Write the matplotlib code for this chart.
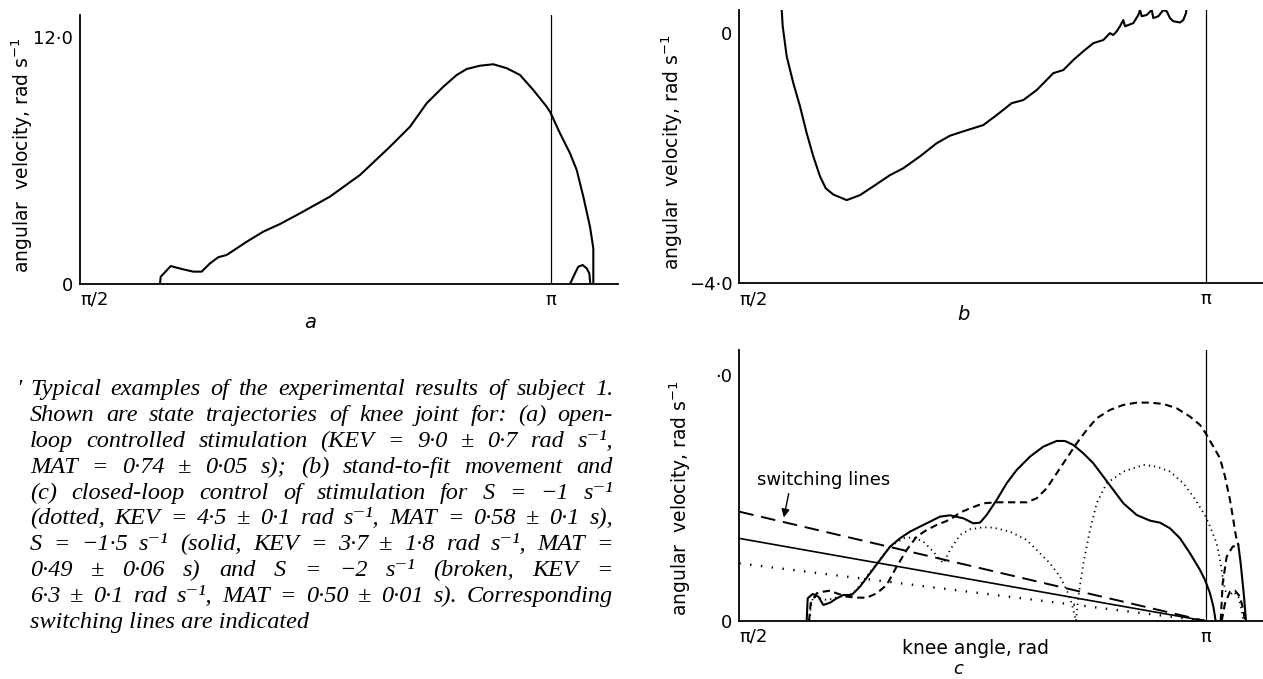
import numpy as np
import matplotlib.pyplot as plt

# ---- data (knee angle in rad, angular velocity in rad/s) ----
# a: open-loop controlled stimulation
a_angle = [1.8379, 1.8402, 1.8736, 1.9157, 1.9491, 1.9771, 2.0048, 2.0325, 2.0606,
           2.1273, 2.1827, 2.2385, 2.3053, 2.4054, 2.5056, 2.6057, 2.6725, 2.7283,
           2.7837, 2.8284, 2.8618, 2.9062, 2.9506, 2.9953, 3.0397, 3.0842, 3.1289,
           3.1416, 3.1733, 3.2067, 3.2291, 3.2511, 3.2734, 3.2845, 3.2845]
a_vel = [0, 0.35, 0.87, 0.71, 0.60, 0.60, 1.00, 1.30, 1.41,
         2.05, 2.54, 2.91, 3.43, 4.24, 5.29, 6.66, 7.63, 8.77,
         9.57, 10.14, 10.43, 10.59, 10.66, 10.47, 10.14, 9.41, 8.60,
         8.31, 7.31, 6.34, 5.53, 4.24, 2.78, 1.73, 0]
a_loop_angle = [3.2067, 3.2234, 3.2344, 3.2491, 3.2624, 3.2711, 3.2745]
a_loop_vel = [0, 0.52, 0.84, 0.92, 0.76, 0.52, 0]

# b: stand-to-fit movement
b_angle = [1.7136, 1.7170, 1.7304, 1.7527, 1.7752, 1.7978, 1.8200, 1.8426, 1.8618,
           1.8874, 1.9325, 1.9773, 2.0221, 2.0784, 2.1232, 2.1794, 2.2356, 2.2804,
           2.3252, 2.3926, 2.4377, 2.4882, 2.5273, 2.5724, 2.6284, 2.6620, 2.6957,
           2.7294, 2.7631, 2.7967, 2.8193, 2.8304, 2.8419, 2.8530, 2.8641, 2.8698,
           2.8978, 2.9146, 2.9204, 2.9261, 2.9429, 2.9598, 2.9652, 2.9820, 2.9988,
           3.0103, 3.0214, 3.0325, 3.0551, 3.0662, 3.0753, 3.0777]
b_vel = [0.37, 0.11, -0.37, -0.80, -1.17, -1.60, -1.97, -2.29, -2.48,
         -2.58, -2.67, -2.59, -2.45, -2.27, -2.16, -1.97, -1.76, -1.64,
         -1.57, -1.47, -1.31, -1.12, -1.07, -0.91, -0.64, -0.59, -0.43,
         -0.29, -0.16, -0.11, 0.00, -0.03, 0.03, 0.11, 0.21, 0.11,
         0.16, 0.29, 0.37, 0.27, 0.29, 0.37, 0.24, 0.27, 0.37,
         0.35, 0.24, 0.19, 0.17, 0.21, 0.32, 0.40]

# c: closed-loop control, S = -1 (dotted), -1.5 (solid), -2 (broken)
c_solid_angle = [1.7977, 1.8011, 1.8179, 1.8370, 1.8538, 1.8763, 1.8988, 1.9212, 1.9493,
                 1.9773, 2.0110, 2.0447, 2.0784, 2.1121, 2.1458, 2.1794, 2.2131, 2.2468,
                 2.2805, 2.3254, 2.3590, 2.3815, 2.4039, 2.4376, 2.4713, 2.5050, 2.5499,
                 2.5948, 2.6397, 2.6678, 2.6958, 2.7295, 2.7632, 2.7969, 2.8306, 2.8643,
                 2.9091, 2.9541, 2.9878, 3.0214, 3.0551, 3.0888, 3.1225, 3.1393, 3.1562,
                 3.1674, 3.1753]
c_solid_vel = [0, 0.645, 0.768, 0.693, 0.455, 0.522, 0.645, 0.740, 0.740,
               0.977, 1.357, 1.736, 2.115, 2.353, 2.542, 2.685, 2.827, 2.969,
               3.007, 2.922, 2.779, 2.798, 3.017, 3.443, 3.918, 4.297, 4.677,
               4.961, 5.122, 5.122, 5.009, 4.771, 4.487, 4.107, 3.728, 3.349,
               3.017, 2.855, 2.798, 2.637, 2.353, 1.926, 1.451, 1.167, 0.787,
               0.408, 0]
c_broken_angle = [1.8056, 1.8112, 1.8314, 1.8538, 1.8763, 1.8988, 1.9324, 1.9661, 1.9998,
                  2.0335, 2.0672, 2.1008, 2.1345, 2.1682, 2.2019, 2.2355, 2.2692, 2.2917,
                  2.3141, 2.3478, 2.3927, 2.4376, 2.4825, 2.5387, 2.5723, 2.6060, 2.6397,
                  2.6734, 2.7071, 2.7408, 2.7744, 2.8193, 2.8642, 2.9092, 2.9540, 2.9990,
                  3.0439, 3.0888, 3.1225, 3.1415, 3.1674, 3.1898, 3.2067, 3.2235, 3.2347,
                  3.2437, 3.2516]
c_broken_vel = [0, 0.503, 0.787, 0.835, 0.863, 0.787, 0.693, 0.664, 0.664,
                0.787, 1.025, 1.546, 2.021, 2.400, 2.590, 2.732, 2.846, 2.950,
                3.083, 3.206, 3.349, 3.377, 3.377, 3.377, 3.491, 3.775, 4.202,
                4.629, 5.056, 5.435, 5.767, 6.005, 6.147, 6.213, 6.213, 6.175,
                6.052, 5.815, 5.578, 5.341, 4.961, 4.629, 4.107, 3.443, 2.874,
                2.400, 2.163]
c_broken_inner_angle = [3.1921, 3.1988, 3.2123, 3.2325, 3.2516]
c_broken_inner_vel = [0, 1.072, 1.831, 2.115, 2.163]
c_broken_loop_angle = [3.1954, 3.2067, 3.2235, 3.2404, 3.2572, 3.2684, 3.2740]
c_broken_loop_vel = [0, 0.503, 0.835, 0.863, 0.693, 0.313, 0]
c_tail_angle = [3.2516, 3.2594, 3.2662, 3.2707, 3.2752, 3.2774]
c_tail_vel = [2.163, 1.641, 1.072, 0.692, 0.218, 0]
c_dotted_angle = [1.8089, 1.8112, 1.8202, 1.8651, 1.9100, 1.9549, 1.9998, 2.0335, 2.0784,
                  2.1233, 2.1570, 2.1907, 2.2243, 2.2580, 2.2805, 2.3141, 2.3478, 2.3927,
                  2.4264, 2.4825, 2.5387, 2.5836, 2.6172, 2.6509, 2.6734, 2.6902, 2.7048,
                  2.7127, 2.7295, 2.7520, 2.7744, 2.8081, 2.8642, 2.9316, 2.9765, 3.0214,
                  3.0663, 3.1000, 3.1281, 3.1415, 3.1562, 3.1786, 3.1898, 3.1988, 3.2067,
                  3.2179, 3.2347, 3.2516, 3.2628, 3.2684]
c_dotted_vel = [0, 0.408, 0.693, 0.598, 0.693, 0.787, 1.262, 1.641, 2.115,
                2.353, 2.381, 2.258, 1.973, 1.641, 2.021, 2.447, 2.609, 2.666,
                2.656, 2.542, 2.305, 1.926, 1.641, 1.262, 0.882, 0.503, 0,
                0.693, 1.641, 2.590, 3.349, 3.918, 4.250, 4.439, 4.392, 4.250,
                3.918, 3.538, 3.159, 2.969, 2.685, 2.210, 1.736, 1.262, 0.882,
                0.693, 0.835, 0.693, 0.313, 0]

# switching lines: velocity at pi/2, all reach 0 at pi
switch_angle = [np.pi / 2, np.pi]
switch_dotted = [1.64, 0]
switch_solid = [2.35, 0]
switch_broken = [3.11, 0]

caption_lines = [
    "Typical examples of the experimental results of subject 1.",
    "Shown are state trajectories of knee joint for: (a) open-",
    "loop controlled stimulation (KEV = 9·0 ± 0·7 rad s⁻¹,",
    "MAT = 0·74 ± 0·05 s); (b) stand-to-fit movement and",
    "(c) closed-loop control of stimulation for S = −1 s⁻¹",
    "(dotted, KEV = 4·5 ± 0·1 rad s⁻¹, MAT = 0·58 ± 0·1 s),",
    "S = −1·5 s⁻¹ (solid, KEV = 3·7 ± 1·8 rad s⁻¹, MAT =",
    "0·49 ± 0·06 s) and S = −2 s⁻¹ (broken, KEV =",
    "6·3 ± 0·1 rad s⁻¹, MAT = 0·50 ± 0·01 s). Corresponding",
    "switching lines are indicated",
]

W, H = 1263, 679
fig = plt.figure(figsize=(W / 100, H / 100), dpi=100)


def px_axes(left, top, right, bottom):
    return fig.add_axes([left / W, 1 - bottom / H, (right - left) / W, (bottom - top) / H])


def style(ax, xmax, ylim, yticks, ylabels):
    ax.set_xlim(np.pi / 2, xmax)
    ax.set_ylim(*ylim)
    ax.patch.set_alpha(0)
    for s in ['top', 'right']:
        ax.spines[s].set_visible(False)
    for s in ['left', 'bottom']:
        ax.spines[s].set_linewidth(1.3)
    ax.set_xticks([np.pi / 2, np.pi])
    labs = ax.set_xticklabels(['π/2', 'π'])
    labs[0].set_horizontalalignment('left')
    ax.set_yticks(yticks)
    ax.set_yticklabels(ylabels)
    ax.tick_params(length=0, labelsize=13, pad=5)
    ax.axvline(np.pi, color='k', lw=0.9)


ax_a = px_axes(80, 15, 618, 284)
ax_b = px_axes(739.3, 10, 1263, 283.3)
ax_c = px_axes(739.3, 350, 1263, 621)

lw = 1.5
ax_a.plot(a_angle, a_vel, color='k', lw=lw)
ax_a.plot(a_loop_angle, a_loop_vel, color='k', lw=lw)
style(ax_a, 3.3669, (0, 13.05), [0, 12], ['0', '12·0'])

ax_b.plot(b_angle, b_vel, color='k', lw=lw)
style(ax_b, 3.3346, (-4, 0.37), [-4, 0], ['−4·0', '0'])

ax_c.plot(c_solid_angle, c_solid_vel, color='k', lw=lw)
ax_c.plot(c_tail_angle, c_tail_vel, color='k', lw=lw)
ax_c.plot(c_broken_angle, c_broken_vel, color='k', lw=lw, dashes=(3.5, 2.2))
ax_c.plot(c_broken_inner_angle, c_broken_inner_vel, color='k', lw=lw, dashes=(3.5, 2.2))
ax_c.plot(c_broken_loop_angle, c_broken_loop_vel, color='k', lw=lw, dashes=(3.5, 2.2))
ax_c.plot(c_dotted_angle, c_dotted_vel, color='k', lw=1.3, dashes=(0.7, 2.2))
ax_c.plot(switch_angle, switch_broken, color='k', lw=1.4, dashes=(7.5, 4))
ax_c.plot(switch_angle, switch_solid, color='k', lw=1.2)
ax_c.plot(switch_angle, switch_dotted, color='k', lw=1.7, dashes=(0.6, 4.0))
style(ax_c, 3.3346, (0, 7.71), [0, 7], ['0', '·0'])
ax_c.text(1.629, 4.01, 'switching lines', fontsize=13, ha='left', va='center')
ax_c.annotate('', xy=(1.719, 2.87), xytext=(1.739, 3.70),
              arrowprops=dict(arrowstyle='-|>', color='k', lw=1.0, mutation_scale=12))

# axis labels and panel letters
ylab = 'angular  velocity, rad s$^{-1}$'
for x, y in [(22, 155), (672, 152), (680, 498)]:
    fig.text(x / W, 1 - y / H, ylab, rotation=90, ha='center', va='center', fontsize=13.5)
fig.text(975 / W, 1 - 648 / H, 'knee angle, rad', ha='center', va='center', fontsize=13.5)
fig.text(310 / W, 1 - 322 / H, 'a', style='italic', ha='center', va='center', fontsize=14)
fig.text(963 / W, 1 - 315 / H, 'b', style='italic', ha='center', va='center', fontsize=14)
fig.text(958 / W, 1 - 678 / H, 'c', style='italic', ha='center', va='bottom', fontsize=13)

# justified caption, font size fitted so that the first line fills the column
renderer = fig.canvas.get_renderer()
x0, x1 = 30, 613
cap_kw = dict(family=['Liberation Serif', 'DejaVu Serif'], style='italic', fontsize=16,
              va='baseline', ha='left')
probe = fig.text(0, 0, caption_lines[0], **cap_kw)
cap_kw['fontsize'] = 16 * (x1 - x0) / probe.get_window_extent(renderer).width * 0.95
probe.remove()

fig.text(16 / W, 1 - 395 / H, "'", **cap_kw)
for i, line in enumerate(caption_lines):
    y = 1 - (395 + i * 25.9) / H
    if i == len(caption_lines) - 1:
        fig.text(x0 / W, y, line, **cap_kw)
        continue
    words = line.split()
    texts = [fig.text(0, y, w, **cap_kw) for w in words]
    widths = [t.get_window_extent(renderer).width for t in texts]
    gap = (x1 - x0 - sum(widths)) / (len(words) - 1)
    x = x0
    for t, w in zip(texts, widths):
        t.set_x(x / W)
        x += w + gap

fig.savefig('out.png', dpi=100)
